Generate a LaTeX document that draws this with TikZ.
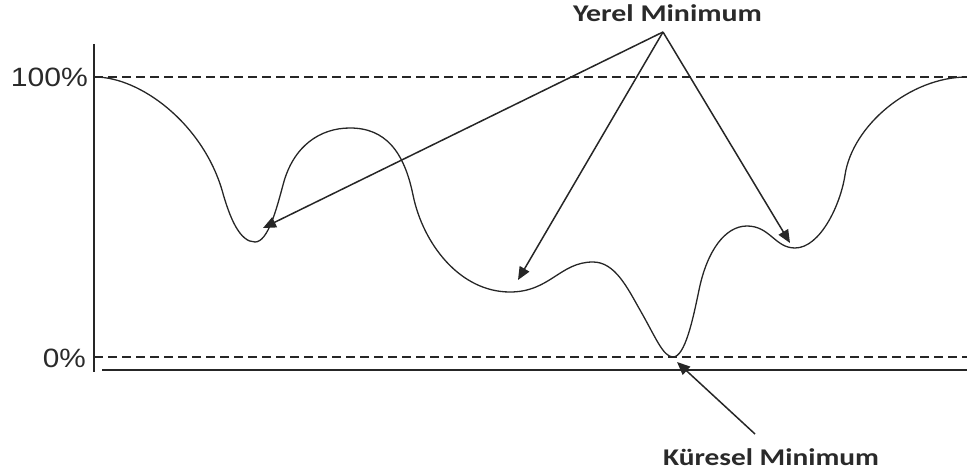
\documentclass[tikz,border=0pt]{standalone}
\usepackage{fontspec}
\usepackage{graphicx}
\newfontfamily\labfont{Carlito}
\newfontfamily\pctfont{Liberation Sans}
\usetikzlibrary{arrows.meta}
\definecolor{ink}{HTML}{262626}
\definecolor{txt}{HTML}{2A2A2A}
\tikzset{
  curveline/.style={line width=1.3pt, ink},
  axisline/.style={line width=1.8pt, ink},
  guide/.style={line width=1.2pt, ink, dash pattern=on 9pt off 5pt},
  pointer/.style={line width=1.5pt, ink, -{Triangle[length=13pt,width=11pt]}},
  lab/.style={inner sep=0pt, text=txt, font=\labfont\bfseries\fontsize{24}{28}\selectfont},
  pct/.style={inner sep=0pt, text=txt, font=\pctfont\fontsize{26.5}{30}\selectfont}
}
\begin{document}
\begin{tikzpicture}[x=1pt,y=-1pt]
\useasboundingbox (0,0) rectangle (967,473);
% axes and guide lines
\coordinate (axtop) at (94,44);
\coordinate (axbot) at (94,372);
\draw[axisline] (axtop) -- (axbot);
\coordinate (hl) at (102,370);
\coordinate (hr) at (967,370);
\draw[axisline] (hl) -- (hr);
\coordinate (g1l) at (94,77);
\coordinate (g1r) at (967,77);
\draw[guide] (g1l) -- (g1r);
\coordinate (g0l) at (94,357);
\coordinate (g0r) at (967,357);
\draw[guide] (g0l) -- (g0r);
% labels
\node[pct, anchor=base east] (p100) at (88,87) {\resizebox{77pt}{\height}{100\%}};
\node[pct, anchor=base east] (p0) at (86,367) {\resizebox{43pt}{\height}{0\%}};
\node[lab, anchor=base] (yerel) at (667.5,22) {\resizebox{189pt}{\height}{Yerel Minimum}};
\node[lab, anchor=base] (kuresel) at (771,465) {\resizebox{216pt}{\height}{Küresel Minimum}};
% curve
\draw[curveline]
  (95,77) .. controls (140,77) and (202,123) .. (222,190)
  .. controls (230,219) and (240,242) .. (255,242)
  .. controls (268,242) and (276.5,209) .. (283,185)
  .. controls (293,146) and (320,128) .. (350,128)
  .. controls (385,128) and (404,151) .. (413,195)
  .. controls (423,244) and (460,292) .. (510,292)
  .. controls (550,292) and (560,262) .. (593,262)
  .. controls (615,262) and (627.5,288) .. (640,310)
  .. controls (655,336) and (663,357) .. (673,357)
  .. controls (685,357) and (693,319) .. (699,290)
  .. controls (707,251) and (725,226) .. (747,226)
  .. controls (770,226) and (775,248) .. (795,248)
  .. controls (820,248) and (840.5,205) .. (845,175)
  .. controls (852.5,125.5) and (910,77) .. (967,77);
% pointers
\coordinate (apex) at (663,32);
\coordinate (m1) at (263,228);
\coordinate (m2) at (518,280);
\coordinate (m3) at (790,243);
\coordinate (gm) at (677,362);
\coordinate (kt) at (755,434);
\draw[pointer] (apex) -- (m1);
\draw[pointer] (apex) -- (m2);
\draw[pointer] (apex) -- (m3);
\draw[pointer] (kt) -- (gm);
\end{tikzpicture}
\end{document}
